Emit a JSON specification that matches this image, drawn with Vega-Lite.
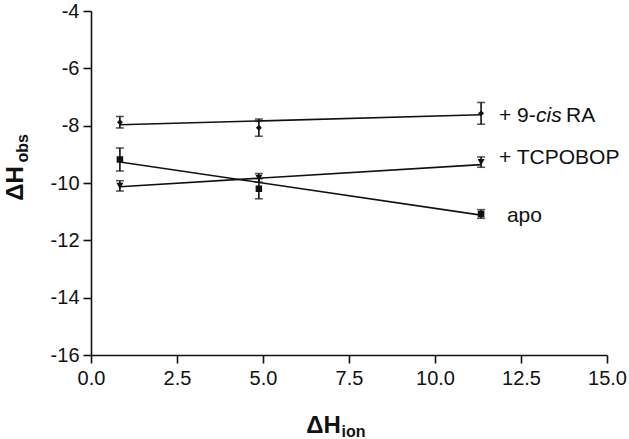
{
  "$schema": "https://vega.github.io/schema/vega-lite/v6.json",
  "width": 516,
  "height": 344,
  "autosize": {"type": "none"},
  "padding": {"left": 91, "top": 11, "right": 22, "bottom": 84},
  "background": "white",
  "config": {
    "view": {"stroke": null},
    "font": "Liberation Sans",
    "scale": {"continuousPadding": 0},
    "axis": {"grid": false, "labelFlush": false, "domainColor": "#111", "tickColor": "#111", "labelColor": "#111", "titleColor": "#111", "labelFont": "Liberation Sans", "titleFont": "Liberation Sans"}
  },
  "datasets": {
    "fits": [
      {"series": "9-cis RA", "x": 0.84, "y": -7.97},
      {"series": "9-cis RA", "x": 11.34, "y": -7.62},
      {"series": "apo", "x": 0.84, "y": -9.27},
      {"series": "apo", "x": 11.34, "y": -11.12},
      {"series": "TCPOBOP", "x": 0.84, "y": -10.13},
      {"series": "TCPOBOP", "x": 11.34, "y": -9.36}
    ],
    "obs": [
      {"series": "9-cis RA", "x": 0.84, "y": -7.88, "lo": -8.08, "hi": -7.68},
      {"series": "9-cis RA", "x": 4.88, "y": -8.07, "lo": -8.37, "hi": -7.77},
      {"series": "9-cis RA", "x": 11.34, "y": -7.57, "lo": -7.95, "hi": -7.19},
      {"series": "apo", "x": 0.84, "y": -9.18, "lo": -9.58, "hi": -8.78},
      {"series": "apo", "x": 4.88, "y": -10.2, "lo": -10.55, "hi": -9.85},
      {"series": "apo", "x": 11.34, "y": -11.08, "lo": -11.23, "hi": -10.93},
      {"series": "TCPOBOP", "x": 0.84, "y": -10.1, "lo": -10.28, "hi": -9.92},
      {"series": "TCPOBOP", "x": 4.88, "y": -9.82, "lo": -9.97, "hi": -9.67},
      {"series": "TCPOBOP", "x": 11.34, "y": -9.27, "lo": -9.45, "hi": -9.09}
    ],
    "labels": [
      {"piece": "+ 9-", "x": 11.86, "y": -7.87},
      {"piece": "cis", "x": 11.86, "y": -7.87},
      {"piece": "RA", "x": 11.86, "y": -7.87},
      {"piece": "+ TCPOBOP", "x": 11.86, "y": -9.34},
      {"piece": "apo", "x": 12.09, "y": -11.36}
    ]
  },
  "resolve": {"axis": {"x": "independent", "y": "independent"}},
  "layer": [
    {
      "data": {"name": "fits"},
      "mark": {"type": "line", "color": "#111", "strokeWidth": 1.6},
      "encoding": {
        "x": {"field": "x", "type": "quantitative", "scale": {"domain": [0, 15], "nice": false, "zero": false, "padding": 0},
          "axis": {"values": [0, 2.5, 5, 7.5, 10, 12.5, 15], "format": ".1f", "labelFlush": false, "domainWidth": 1.6, "tickWidth": 1.6, "tickSize": 8, "labelFontSize": 20, "labelPadding": 5,
            "title": "ΔH", "titleFontSize": 24, "titleFontWeight": "bold", "titleX": 232, "titleY": 77, "titleAlign": "center", "titleBaseline": "alphabetic", "titleAnchor": null}},
        "y": {"field": "y", "type": "quantitative", "scale": {"domain": [-16, -4], "nice": false, "zero": false, "padding": 0},
          "axis": {"values": [-16, -14, -12, -10, -8, -6, -4], "labelExpr": "toString(datum.value)", "labelFlush": false, "domainWidth": 1.6, "tickWidth": 1.6, "tickSize": 8, "labelFontSize": 20, "labelPadding": 4,
            "title": "ΔH", "titleFontSize": 24, "titleFontWeight": "bold", "titleAngle": 270, "titleX": -69, "titleY": 172, "titleAlign": "center", "titleBaseline": "alphabetic"}},
        "detail": {"field": "series"}
      }
    },
    {
      "data": {"name": "obs"},
      "mark": {"type": "rule", "color": "#111", "strokeWidth": 1.6},
      "encoding": {
        "x": {"field": "x", "type": "quantitative", "axis": null},
        "y": {"field": "lo", "type": "quantitative", "axis": null},
        "y2": {"field": "hi"}
      }
    },
    {
      "data": {"name": "obs"},
      "mark": {"type": "tick", "orient": "horizontal", "color": "#111", "size": 8, "thickness": 1.6},
      "encoding": {
        "x": {"field": "x", "type": "quantitative", "axis": null},
        "y": {"field": "lo", "type": "quantitative", "axis": null}
      }
    },
    {
      "data": {"name": "obs"},
      "mark": {"type": "tick", "orient": "horizontal", "color": "#111", "size": 8, "thickness": 1.6},
      "encoding": {
        "x": {"field": "x", "type": "quantitative", "axis": null},
        "y": {"field": "hi", "type": "quantitative", "axis": null}
      }
    },
    {
      "data": {"name": "obs"},
      "mark": {"type": "point", "filled": true, "color": "#111", "opacity": 1},
      "encoding": {
        "x": {"field": "x", "type": "quantitative",
          "axis": {"orient": "top", "domain": false, "ticks": false, "labels": false, "title": "ion", "titleFontSize": 16, "titleFontWeight": "bold", "titleX": 250, "titleY": 425, "titleAlign": "left", "titleBaseline": "alphabetic"}},
        "y": {"field": "y", "type": "quantitative",
          "axis": {"orient": "right", "domain": false, "ticks": false, "labels": false, "title": "obs", "titleFontSize": 16, "titleFontWeight": "bold", "titleAngle": 270, "titleX": -580, "titleY": 151, "titleAlign": "left", "titleBaseline": "alphabetic"}},
        "shape": {"field": "series", "type": "nominal", "legend": null,
          "scale": {"domain": ["9-cis RA", "apo", "TCPOBOP"], "range": ["diamond", "square", "triangle-down"]}},
        "size": {"field": "series", "type": "nominal", "legend": null,
          "scale": {"domain": ["9-cis RA", "apo", "TCPOBOP"], "range": [35, 50, 55]}}
      }
    },
    {
      "data": {"name": "labels"},
      "transform": [{"filter": "datum.piece !== 'cis' && datum.piece !== 'RA'"}],
      "mark": {"type": "text", "align": "left", "baseline": "alphabetic", "fontSize": 21, "color": "#111"},
      "encoding": {
        "x": {"field": "x", "type": "quantitative", "axis": null},
        "y": {"field": "y", "type": "quantitative", "axis": null},
        "text": {"field": "piece"}
      }
    },
    {
      "data": {"name": "labels"},
      "transform": [{"filter": "datum.piece === 'cis'"}],
      "mark": {"type": "text", "align": "left", "baseline": "alphabetic", "fontSize": 21, "fontStyle": "italic", "color": "#111", "dx": 37},
      "encoding": {
        "x": {"field": "x", "type": "quantitative", "axis": null},
        "y": {"field": "y", "type": "quantitative", "axis": null},
        "text": {"field": "piece"}
      }
    },
    {
      "data": {"name": "labels"},
      "transform": [{"filter": "datum.piece === 'RA'"}],
      "mark": {"type": "text", "align": "left", "baseline": "alphabetic", "fontSize": 21, "color": "#111", "dx": 67},
      "encoding": {
        "x": {"field": "x", "type": "quantitative", "axis": null},
        "y": {"field": "y", "type": "quantitative", "axis": null},
        "text": {"field": "piece"}
      }
    }
  ]
}
